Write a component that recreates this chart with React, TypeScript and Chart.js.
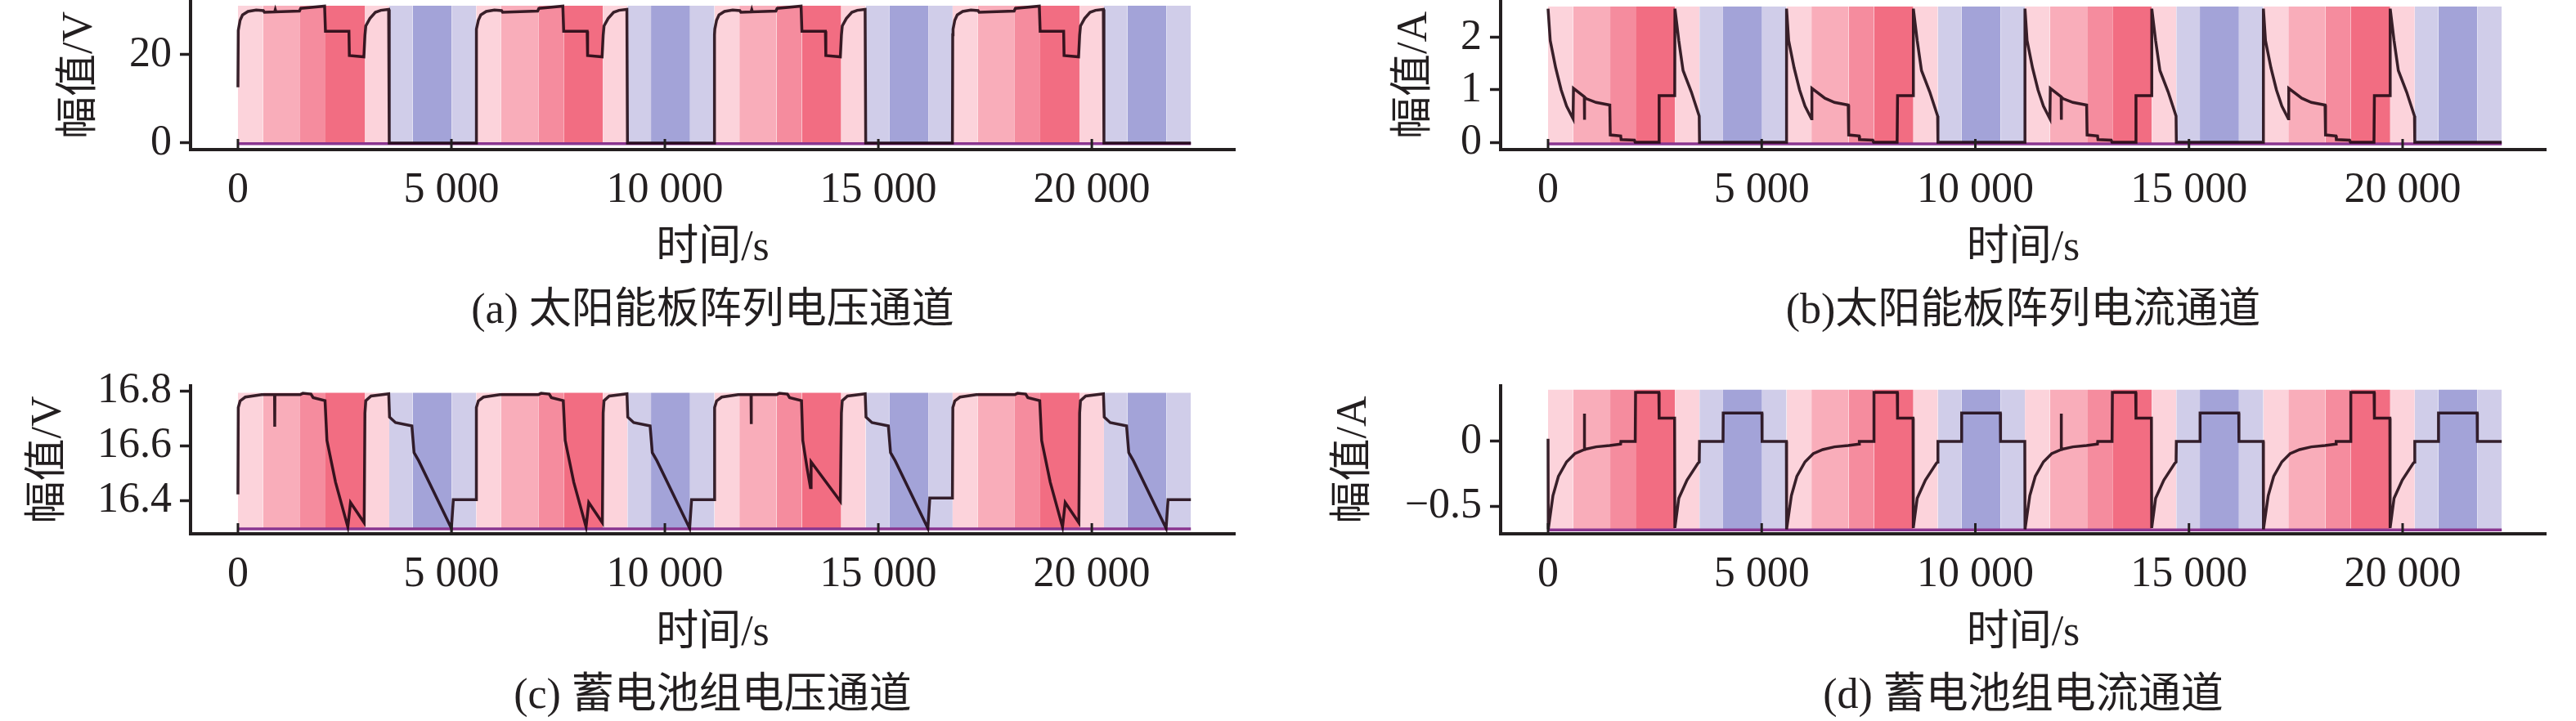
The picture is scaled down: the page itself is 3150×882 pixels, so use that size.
import { useEffect, useRef } from 'react'
import { Chart, registerables } from 'chart.js'

Chart.register(...registerables)

const FONT = '"Liberation Serif", "Noto Sans CJK SC", serif'
const INK = '#231f20'
const SIGNAL = 'rgba(28, 6, 16, 0.88)'
const BASELINE = '#8a3690'

// time axis
const xTickValues = [0, 5000, 10000, 15000, 20000]
const xTickLabels = ['0', '5 000', '10 000', '15 000', '20 000']

// working-condition bands (s) and their shading
const bandEdges = [
  0, 585, 1456, 2050, 2970, 3544, 4095, 5010,
  5580, 6165, 7036, 7630, 8550, 9124, 9675, 10590,
  11160, 11745, 12616, 13210, 14130, 14704, 15255, 16170,
  16740, 17325, 18196, 18790, 19710, 20284, 20835, 21750,
  22320,
]
const bandKinds = [
  'p1', 'p2', 'p3', 'p4', 'p1', 'l', 'b', 'l',
  'p1', 'p2', 'p3', 'p4', 'p1', 'l', 'b', 'l',
  'p1', 'p2', 'p3', 'p4', 'p1', 'l', 'b', 'l',
  'p1', 'p2', 'p3', 'p4', 'p1', 'l', 'b', 'l',
]
const bandColors: Record<string, string> = {
  p1: '#fcd3db',
  p2: '#f9adba',
  p3: '#f58c9e',
  p4: '#f26d82',
  l: '#d0cde9',
  b: '#a3a3d8',
}

// (a) solar array voltage, V
const solarVoltage: [number, number][] = [
  [0, 12.6], [8, 25.5], [51, 27.8], [108, 29.0], [236, 29.8], [428, 30.1], [594, 30.0], [620, 29.6],
  [860, 29.7], [875, 30.2], [890, 29.7], [1440, 29.9], [1470, 30.5], [2030, 31.0], [2050, 25.3],
  [2600, 25.3], [2610, 19.8], [2950, 19.5], [2975, 24.4], [2995, 26.5], [3091, 28.2], [3219, 29.6],
  [3346, 30.05], [3530, 30.25], [3544, 0], [5575, 0],
  [5582, 24.5], [5590, 25.8], [5631, 27.8], [5688, 29.0], [5816, 29.8], [6008, 30.1], [6174, 30.0],
  [6200, 29.6], [7020, 29.9], [7050, 30.5], [7610, 31.0], [7630, 25.3], [8180, 25.3], [8190, 19.8],
  [8530, 19.5], [8555, 24.4], [8575, 26.5], [8671, 28.2], [8799, 29.6], [8926, 30.05], [9110, 30.25],
  [9124, 0], [11155, 0],
  [11162, 24.5], [11170, 25.8], [11211, 27.8], [11268, 29.0], [11396, 29.8], [11588, 30.1], [11754, 30.0],
  [11780, 29.6], [12020, 29.7], [12035, 30.2], [12050, 29.7], [12600, 29.9], [12630, 30.5], [13190, 31.0],
  [13210, 25.3], [13760, 25.3], [13770, 19.8], [14110, 19.5], [14135, 24.4], [14155, 26.5], [14251, 28.2],
  [14379, 29.6], [14506, 30.05], [14690, 30.25], [14704, 0], [16735, 0],
  [16742, 24.5], [16750, 25.8], [16791, 27.8], [16848, 29.0], [16976, 29.8], [17168, 30.1], [17334, 30.0],
  [17360, 29.6], [18180, 29.9], [18210, 30.5], [18770, 31.0], [18790, 25.3], [19340, 25.3], [19350, 19.8],
  [19690, 19.5], [19715, 24.4], [19735, 26.5], [19831, 28.2], [19959, 29.6], [20086, 30.05], [20270, 30.25],
  [20284, 0], [22320, 0],
]

// (b) solar array current, A
const solarCurrent: [number, number][] = [
  [0, 2.55], [51, 1.94], [179, 1.42], [307, 1.0], [434, 0.69], [585, 0.45], [595, 1.03], [849, 0.87],
  [852, 0.43], [856, 0.86], [900, 0.83], [1124, 0.76], [1445, 0.71], [1456, 0.14], [1700, 0.12],
  [1710, 0.05], [2020, 0.04], [2040, 0.0], [2590, 0.0], [2600, 0.89], [2965, 0.89], [2970, 2.55],
  [3060, 1.94], [3160, 1.37], [3354, 0.96], [3538, 0.5], [3545, 0], [5580, 0],
  [5582, 2.55], [5631, 1.94], [5759, 1.42], [5887, 1.0], [6014, 0.69], [6165, 0.45], [6175, 1.03],
  [6480, 0.84], [6704, 0.76], [7025, 0.71], [7036, 0.14], [7280, 0.12], [7290, 0.05], [7600, 0.04],
  [7620, 0.0], [8170, 0.0], [8180, 0.89], [8545, 0.89], [8550, 2.55], [8640, 1.94], [8740, 1.37],
  [8934, 0.96], [9118, 0.5], [9125, 0], [11160, 0],
  [11162, 2.55], [11211, 1.94], [11339, 1.42], [11467, 1.0], [11594, 0.69], [11745, 0.45], [11755, 1.03],
  [12009, 0.87], [12012, 0.43], [12016, 0.86], [12060, 0.83], [12284, 0.76], [12605, 0.71], [12616, 0.14],
  [12860, 0.12], [12870, 0.05], [13180, 0.04], [13200, 0.0], [13750, 0.0], [13760, 0.89], [14125, 0.89],
  [14130, 2.55], [14220, 1.94], [14320, 1.37], [14514, 0.96], [14698, 0.5], [14705, 0], [16740, 0],
  [16742, 2.55], [16791, 1.94], [16919, 1.42], [17047, 1.0], [17174, 0.69], [17325, 0.45], [17335, 1.03],
  [17640, 0.84], [17864, 0.76], [18185, 0.71], [18196, 0.14], [18440, 0.12], [18450, 0.05], [18760, 0.04],
  [18780, 0.0], [19330, 0.0], [19340, 0.89], [19705, 0.89], [19710, 2.55], [19800, 1.94], [19900, 1.37],
  [20094, 0.96], [20278, 0.5], [20285, 0], [22320, 0],
]

// (c) battery voltage, V
const batteryVoltage: [number, number][] = [
  [0, 16.424], [8, 16.74], [51, 16.764], [172, 16.778], [555, 16.787], [858, 16.787], [862, 16.67],
  [866, 16.787], [1456, 16.787], [1520, 16.792], [1711, 16.789], [1762, 16.776], [2040, 16.765],
  [2085, 16.62], [2286, 16.468], [2574, 16.305], [2637, 16.394], [2957, 16.32], [2975, 16.72],
  [2995, 16.765], [3117, 16.782], [3532, 16.79], [3551, 16.705], [3691, 16.685], [4074, 16.673],
  [4125, 16.576], [4234, 16.546], [5000, 16.3], [5045, 16.404], [5575, 16.404],
  [5585, 16.74], [5631, 16.764], [5752, 16.778], [6135, 16.787], [7036, 16.787], [7100, 16.792],
  [7291, 16.789], [7342, 16.776], [7620, 16.765], [7665, 16.62], [7866, 16.468], [8154, 16.305],
  [8217, 16.394], [8537, 16.32], [8555, 16.72], [8575, 16.765], [8697, 16.782], [9112, 16.79],
  [9131, 16.705], [9271, 16.685], [9654, 16.673], [9705, 16.576], [9814, 16.546], [10580, 16.3],
  [10625, 16.404], [11155, 16.404],
  [11165, 16.74], [11211, 16.764], [11332, 16.778], [11715, 16.787], [12018, 16.787], [12022, 16.68],
  [12026, 16.787], [12616, 16.787], [12680, 16.792], [12871, 16.789], [12922, 16.776], [13200, 16.765],
  [13230, 16.62], [13330, 16.52], [13410, 16.448], [13425, 16.542], [14110, 16.398], [14135, 16.72],
  [14155, 16.765], [14277, 16.782], [14692, 16.79], [14711, 16.705], [14851, 16.685], [15234, 16.673],
  [15285, 16.576], [15394, 16.546], [16160, 16.3], [16205, 16.41], [16735, 16.41],
  [16745, 16.74], [16791, 16.764], [16912, 16.778], [17295, 16.787], [18196, 16.787], [18260, 16.792],
  [18451, 16.789], [18502, 16.776], [18780, 16.765], [18825, 16.62], [19026, 16.468], [19314, 16.305],
  [19377, 16.394], [19697, 16.32], [19715, 16.72], [19735, 16.765], [19857, 16.782], [20272, 16.79],
  [20291, 16.705], [20431, 16.685], [20814, 16.673], [20865, 16.576], [20974, 16.546], [21740, 16.3],
  [21785, 16.404], [22320, 16.404],
]

// (d) battery current, A
const batteryCurrent: [number, number][] = [
  [0, 0.02], [5, -0.68], [115, -0.42], [243, -0.27], [434, -0.158], [626, -0.095], [848, -0.063],
  [851, 0.215], [854, -0.062], [1124, -0.042], [1443, -0.032], [1698, -0.021], [1705, 0.0], [2040, 0.0],
  [2048, 0.38], [2593, 0.38], [2600, 0.18], [2962, 0.18], [2968, -0.67], [3060, -0.44], [3252, -0.3],
  [3507, -0.17], [3538, -0.16], [3545, 0.0], [4095, 0.0], [4100, 0.22], [5005, 0.22], [5010, 0.0],
  [5578, 0.0],
  [5583, -0.68], [5695, -0.42], [5823, -0.27], [6014, -0.158], [6206, -0.095], [6429, -0.063],
  [6704, -0.042], [7023, -0.032], [7278, -0.021], [7285, 0.0], [7620, 0.0], [7628, 0.38], [8173, 0.38],
  [8180, 0.18], [8542, 0.18], [8548, -0.67], [8640, -0.44], [8832, -0.3], [9087, -0.17], [9118, -0.16],
  [9125, 0.0], [9675, 0.0], [9680, 0.22], [10585, 0.22], [10590, 0.0], [11158, 0.0],
  [11163, -0.68], [11275, -0.42], [11403, -0.27], [11594, -0.158], [11786, -0.095], [12008, -0.063],
  [12011, 0.215], [12014, -0.062], [12284, -0.042], [12603, -0.032], [12858, -0.021], [12865, 0.0],
  [13200, 0.0], [13208, 0.38], [13753, 0.38], [13760, 0.18], [14122, 0.18], [14128, -0.67], [14220, -0.44],
  [14412, -0.3], [14667, -0.17], [14698, -0.16], [14705, 0.0], [15255, 0.0], [15260, 0.22], [16165, 0.22],
  [16170, 0.0], [16738, 0.0],
  [16743, -0.68], [16855, -0.42], [16983, -0.27], [17174, -0.158], [17366, -0.095], [17589, -0.063],
  [17864, -0.042], [18183, -0.032], [18438, -0.021], [18445, 0.0], [18780, 0.0], [18788, 0.38],
  [19333, 0.38], [19340, 0.18], [19702, 0.18], [19708, -0.67], [19800, -0.44], [19992, -0.3],
  [20247, -0.17], [20278, -0.16], [20285, 0.0], [20835, 0.0], [20840, 0.22], [21745, 0.22], [21750, 0.0],
  [22320, 0.0],
]

// y axes
const yTicksA = [0, 20]
const yLabelsA = ['0', '20']
const yTicksB = [0, 1, 2]
const yLabelsB = ['0', '1', '2']
const yTicksC = [16.4, 16.6, 16.8]
const yLabelsC = ['16.4', '16.6', '16.8']
const yTicksD = [-0.5, 0]
const yLabelsD = ['−0.5', '0']

interface PanelSpec {
  left: number
  top: number
  height: number
  padTop: number
  padRight: number
  yBoxW: number
  yTitlePad: number
  xBoxH: number
  capPad: number
  points: [number, number][]
  yMin: number
  yMax: number
  yTicks: number[]
  yLabels: string[]
  bandBottom: number
  bandTop: number
  yTitle: string
  caption: string
}

const panels: PanelSpec[] = [
  {
    left: 0, top: 0, height: 441, padTop: 1, padRight: 65, yBoxW: 233, yTitlePad: 66.8, xBoxH: 258, capPad: 21,
    points: solarVoltage, yMin: -1.5, yMax: 32.2, yTicks: yTicksA, yLabels: yLabelsA,
    bandBottom: -0.15, bandTop: 31.1, yTitle: '幅值/V', caption: '(a) 太阳能板阵列电压通道',
  },
  {
    left: 1575, top: 0, height: 441, padTop: 1, padRight: 37, yBoxW: 260, yTitlePad: 123.8, xBoxH: 258, capPad: 21,
    points: solarCurrent, yMin: -0.14, yMax: 2.7, yTicks: yTicksB, yLabels: yLabelsB,
    bandBottom: -0.03, bandTop: 2.59, yTitle: '幅值/A', caption: '(b)太阳能板阵列电流通道',
  },
  {
    left: 0, top: 441, height: 460, padTop: 31, padRight: 65, yBoxW: 233, yTitlePad: 28.8, xBoxH: 248, capPad: 10.5,
    points: batteryVoltage, yMin: 16.28, yMax: 16.819, yTicks: yTicksC, yLabels: yLabelsC,
    bandBottom: 16.298, bandTop: 16.794, yTitle: '幅值/V', caption: '(c) 蓄电池组电压通道',
  },
  {
    left: 1575, top: 441, height: 460, padTop: 31, padRight: 37, yBoxW: 260, yTitlePad: 49.8, xBoxH: 248, capPad: 10.5,
    points: batteryCurrent, yMin: -0.715, yMax: 0.43, yTicks: yTicksD, yLabels: yLabelsD,
    bandBottom: -0.685, bandTop: 0.4, yTitle: '幅值/A', caption: '(d) 蓄电池组电流通道',
  },
]

// x ticks point into the plot area
const innerTicks = {
  id: 'innerTicks',
  afterDraw(chart: any) {
    const xs = chart.scales.x
    const { bottom } = chart.chartArea
    const ctx = chart.ctx
    ctx.save()
    ctx.strokeStyle = INK
    ctx.lineWidth = 3
    xTickValues.forEach(v => {
      const px = xs.getPixelForValue(v)
      ctx.beginPath()
      ctx.moveTo(px, bottom)
      ctx.lineTo(px, bottom - 13)
      ctx.stroke()
    })
    ctx.restore()
  },
}

function buildConfig(spec: PanelSpec): any {
  const bands = bandKinds.map((kind, i) => ({
    type: 'line',
    data: [
      { x: bandEdges[i], y: spec.bandTop },
      { x: bandEdges[i + 1], y: spec.bandTop },
    ],
    fill: { value: spec.bandBottom },
    backgroundColor: bandColors[kind],
    borderWidth: 0,
    pointRadius: 0,
    order: 3,
  }))

  const baseline = {
    type: 'line',
    data: [
      { x: bandEdges[0], y: spec.bandBottom },
      { x: bandEdges[bandEdges.length - 1], y: spec.bandBottom },
    ],
    borderColor: BASELINE,
    borderWidth: 3.5,
    pointRadius: 0,
    fill: false,
    order: 2,
  }

  const signal = {
    type: 'line',
    data: spec.points.map(([x, y]) => ({ x, y })),
    borderColor: SIGNAL,
    borderWidth: 3.5,
    pointRadius: 0,
    tension: 0,
    fill: false,
    order: 1,
  }

  return {
    type: 'line',
    data: { datasets: [...bands, baseline, signal] },
    options: {
      animation: false,
      responsive: false,
      devicePixelRatio: 1,
      layout: { padding: { left: 0, right: spec.padRight, top: spec.padTop, bottom: 0 } },
      plugins: {
        legend: { display: false },
        tooltip: { enabled: false },
        title: { display: false },
      },
      scales: {
        x: {
          type: 'linear',
          min: -1110,
          max: 23350,
          afterFit: (s: any) => {
            s.height = spec.xBoxH
            s.paddingLeft = 0
            s.paddingRight = 0
          },
          afterBuildTicks: (s: any) => { s.ticks = xTickValues.map(v => ({ value: v })) },
          grid: { display: false, drawTicks: false },
          border: { display: true, color: INK, width: 4 },
          ticks: {
            callback: (v: number) => xTickLabels[xTickValues.indexOf(v)] ?? '',
            font: { family: FONT, size: 52 },
            color: INK,
            padding: 19,
            maxRotation: 0,
            autoSkip: false,
          },
          title: {
            display: true,
            text: ['时间/s', spec.caption],
            font: { family: FONT, size: 52, lineHeight: 1.48 },
            color: INK,
            padding: { top: 0, bottom: spec.capPad },
          },
        },
        y: {
          type: 'linear',
          min: spec.yMin,
          max: spec.yMax,
          afterFit: (s: any) => {
            s.width = spec.yBoxW
            s.paddingTop = 0
            s.paddingBottom = 0
          },
          afterBuildTicks: (s: any) => { s.ticks = spec.yTicks.map(v => ({ value: v })) },
          grid: {
            display: true,
            drawOnChartArea: false,
            drawTicks: true,
            tickLength: 13,
            tickWidth: 3.5,
            tickColor: INK,
          },
          border: { display: true, color: INK, width: 4 },
          ticks: {
            callback: (v: number) => spec.yLabels[spec.yTicks.indexOf(v)] ?? '',
            font: { family: FONT, size: 52 },
            color: INK,
            padding: 10,
            autoSkip: false,
          },
          title: {
            display: true,
            text: spec.yTitle,
            font: { family: FONT, size: 52, lineHeight: 1.2 },
            color: INK,
            padding: { top: spec.yTitlePad, bottom: 0 },
          },
        },
      },
    },
    plugins: [innerTicks],
  }
}

function Panel({ spec }: { spec: PanelSpec }) {
  const canvasRef = useRef<HTMLCanvasElement>(null)

  useEffect(() => {
    if (!canvasRef.current) return
    const chart = new Chart(canvasRef.current, buildConfig(spec))
    return () => chart.destroy()
  }, [spec])

  return (
    <canvas
      ref={canvasRef}
      width={1575}
      height={spec.height}
      style={{ position: 'absolute', left: spec.left, top: spec.top, width: 1575, height: spec.height }}
    />
  )
}

export default function App() {
  return (
    <div style={{ position: 'absolute', left: 0, top: 0, width: 3150, height: 882, background: '#fff', overflow: 'hidden' }}>
      {panels.map((p, i) => <Panel key={i} spec={p} />)}
    </div>
  )
}
